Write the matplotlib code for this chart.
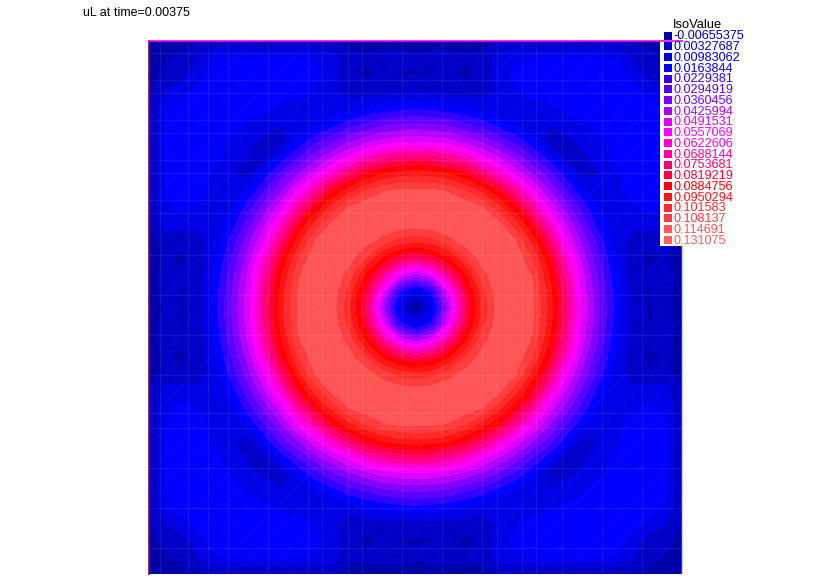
import matplotlib
matplotlib.use('Agg')
import matplotlib.pyplot as plt
import numpy as np

plt.rcParams['font.family'] = ['Liberation Sans', 'DejaVu Sans']

W, H = 830, 587

title = 'uL at time=0.00375'
legend_title = 'IsoValue'
iso_labels = ['-0.00655375', '0.00327687', '0.00983062', '0.0163844', '0.0229381',
              '0.0294919', '0.0360456', '0.0425994', '0.0491531', '0.0557069',
              '0.0622606', '0.0688144', '0.0753681', '0.0819219', '0.0884756',
              '0.0950294', '0.101583', '0.108137', '0.114691', '0.131075']
iso_colors = ['#0000aa', '#0000c8', '#0000e6', '#0000ff', '#3200ff',
              '#5a00ff', '#8200ff', '#af00ff', '#dc00ff', '#ff00ff',
              '#ff00d2', '#ff00a0', '#ff006e', '#ff003c', '#ff0000',
              '#ff1414', '#ff2a2a', '#ff3c3c', '#ff5555', '#ff5f5f']

# one quarter of the square, centre at [0][0], units of 1e-3
u_quarter = [
    [-6, 13, 47, 80, 103, 118, 120, 116, 100, 78, 54, 37, 21, 7, 3, 4, 0],
    [13, 25, 56, 85, 105, 119, 120, 116, 99, 77, 53, 36, 20, 7, 3, 5, 1],
    [47, 56, 75, 94, 112, 120, 120, 114, 95, 73, 51, 34, 18, 7, 4, 5, 1],
    [80, 85, 94, 108, 118, 120, 119, 108, 89, 67, 46, 30, 16, 6, 2, 4, 1],
    [103, 105, 112, 118, 120, 120, 115, 99, 79, 57, 41, 26, 13, 7, 5, 5, 1],
    [118, 119, 120, 120, 120, 116, 104, 88, 67, 49, 34, 20, 11, 11, 13, 13, 3],
    [120, 120, 120, 119, 115, 104, 90, 73, 54, 40, 27, 15, 13, 15, 18, 15, 3],
    [116, 116, 114, 108, 99, 88, 73, 58, 43, 30, 18, 12, 14, 19, 20, 17, 3],
    [100, 99, 95, 89, 79, 67, 54, 43, 33, 20, 7, 10, 15, 19, 20, 17, 3],
    [78, 77, 73, 67, 57, 49, 40, 30, 20, 7, 8, 13, 18, 20, 20, 17, 3],
    [54, 53, 51, 46, 41, 34, 27, 18, 7, 8, 12, 15, 19, 20, 20, 17, 3],
    [37, 36, 34, 30, 26, 20, 15, 12, 10, 13, 15, 19, 20, 20, 20, 17, 3],
    [21, 20, 18, 16, 13, 11, 13, 14, 15, 18, 19, 20, 20, 20, 20, 16, 3],
    [7, 7, 7, 6, 7, 11, 15, 19, 19, 20, 20, 20, 20, 19, 14, 10, 2],
    [3, 3, 4, 2, 5, 13, 18, 20, 20, 20, 20, 20, 20, 14, 7, 5, 1],
    [4, 5, 5, 4, 5, 13, 15, 17, 17, 17, 17, 17, 16, 10, 5, 3, 1],
    [0, 1, 1, 1, 1, 3, 3, 3, 3, 3, 3, 3, 3, 2, 1, 1, 0],
]

# faint mesh lines, pixel positions of the picture
mesh_x = [160, 188, 208, 228, 268, 308, 322, 348, 362, 402, 442, 482, 497, 522, 536, 562, 602, 642]
mesh_y = [53, 80, 93, 120, 133, 160, 173, 200, 213, 255, 295, 335, 375, 413, 428, 468, 508, 548]

iso_values = np.array([float(s) for s in iso_labels])

q = np.array(u_quarter) * 1e-3
q = np.vstack([q[:0:-1], q])
u = np.hstack([q[:, :0:-1], q])

fig = plt.figure(figsize=(W / 100, H / 100), dpi=100)

# main square
ax = fig.add_axes([149 / W, 1 - 574 / H, 533 / W, 533 / H])
x = np.linspace(149, 682, u.shape[1])
y = np.linspace(41, 574, u.shape[0])
levels = np.append(iso_values, 0.14)
ax.contourf(x, y, u, levels=levels, colors=iso_colors, extend='neither')
for v in mesh_x:
    ax.axvline(v, color='white', alpha=0.08, linewidth=1)
for v in mesh_y:
    ax.axhline(v, color='white', alpha=0.08, linewidth=1)
for c in np.arange(149 + 41, 682 + 574, 27):
    ax.plot([c - 574, c - 41], [574, 41], color='white', alpha=0.03, linewidth=1)
ax.set_xlim(149, 682)
ax.set_ylim(574, 41)
ax.axis('off')

# overlay in picture pixels
over = fig.add_axes([0, 0, 1, 1])
over.set_xlim(0, W)
over.set_ylim(H, 0)
over.axis('off')
over.patch.set_alpha(0)

over.plot([149, 149], [41, 574], color='#780078', linewidth=1.2)
over.plot([149, 682], [41, 41], color='#ff00ff', linewidth=1.2)
over.plot([682, 682], [245, 574], color='#d8d8ff', linewidth=1)
over.add_patch(plt.Rectangle((660, 18), 30, 227.5, facecolor='white', edgecolor='none'))

over.text(83, 13, title, fontsize=9, color='black', va='center', ha='left')
over.text(673, 25, legend_title, fontsize=9.3, color='black', va='center', ha='left')
for i, (label, color) in enumerate(zip(iso_labels, iso_colors)):
    yy = 35.5 + i * 10.76
    over.add_patch(plt.Rectangle((664, yy - 4), 8, 8, facecolor=color, edgecolor='none'))
    over.text(673, yy + 0.8, label, fontsize=9.05, color=color, va='center', ha='left')

fig.savefig('out.png', dpi=100)
